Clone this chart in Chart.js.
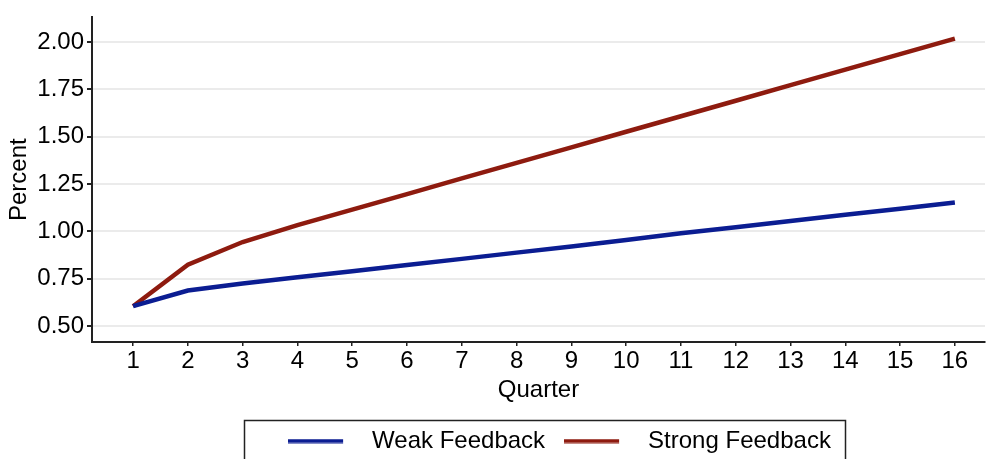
<!DOCTYPE html>
<html lang="en">
<head>
    <meta charset="UTF-8">
    <title>Weak vs strong feedback</title>
    <script src="https://cdn.jsdelivr.net/npm/chart.js"></script>
    <style>
        html, body { margin: 0; padding: 0; background: #fff; }
        .chartBox { width: 986px; height: 459px; }
    </style>
</head>
<body>
<div class="chartBox"><canvas id="lineChart"></canvas></div>
<script>
    // quarters and series values
    var quarters = [1, 2, 3, 4, 5, 6, 7, 8, 9, 10, 11, 12, 13, 14, 15, 16];
    var weakFeedback = [0.605, 0.688, 0.725, 0.758, 0.790, 0.822, 0.855, 0.888, 0.920, 0.955, 0.990, 1.022, 1.055, 1.088, 1.120, 1.153];
    var strongFeedback = [0.605, 0.824, 0.944, 1.033, 1.115, 1.197, 1.280, 1.362, 1.444, 1.526, 1.608, 1.690, 1.772, 1.854, 1.936, 2.018];
    var yTicks = [0.50, 0.75, 1.00, 1.25, 1.50, 1.75, 2.00];

    var font = { family: "'Liberation Sans', Arial, sans-serif", size: 24 };
    var blue = '#0b1d92';
    var red = '#8e1b0f';

    function toPoints(values) {
        return quarters.map(function (q, i) { return { x: q, y: values[i] }; });
    }

    // legend sample: a 55px line inside a 72px wide slot, so the text sits a bit further away
    function legendLine(color) {
        var c = document.createElement('canvas');
        c.width = 72;
        c.height = 5;
        var g = c.getContext('2d');
        g.fillStyle = color;
        g.fillRect(0, 0.5, 55, 4);
        return c;
    }

    // push the legend a little to the right and put a frame round it
    var legendFrame = {
        id: 'legendFrame',
        afterLayout: function (chart) {
            chart.legend.left += 21;
            chart.legend.right += 21;
        },
        afterDraw: function (chart) {
            var ctx = chart.ctx;
            ctx.save();
            ctx.strokeStyle = '#222';
            ctx.lineWidth = 1.5;
            ctx.strokeRect(244.5, 420.5, 601, 60);
            ctx.restore();
        }
    };

    var ctx = document.getElementById('lineChart').getContext('2d');
    new Chart(ctx, {
        type: 'line',
        data: {
            datasets: [{
                label: 'Weak Feedback',
                data: toPoints(weakFeedback),
                borderColor: blue,
                backgroundColor: blue,
                borderWidth: 4.5,
                pointRadius: 0,
                tension: 0
            }, {
                label: 'Strong Feedback',
                data: toPoints(strongFeedback),
                borderColor: red,
                backgroundColor: red,
                borderWidth: 4.5,
                pointRadius: 0,
                tension: 0
            }]
        },
        options: {
            responsive: true,
            maintainAspectRatio: false,
            animation: false,
            layout: { padding: { top: 14, right: 1, left: 0, bottom: -4 } },
            plugins: {
                tooltip: { enabled: false },
                legend: {
                    position: 'bottom',
                    fullSize: false,
                    labels: {
                        color: '#000',
                        font: font,
                        usePointStyle: true,
                        pointStyleWidth: 72,
                        padding: 19,
                        generateLabels: function (chart) {
                            return chart.data.datasets.map(function (ds, i) {
                                return {
                                    text: ds.label,
                                    pointStyle: legendLine(ds.borderColor),
                                    fillStyle: ds.borderColor,
                                    strokeStyle: ds.borderColor,
                                    lineWidth: 0,
                                    datasetIndex: i
                                };
                            });
                        }
                    }
                }
            },
            scales: {
                x: {
                    type: 'linear',
                    min: 0.25,
                    max: 16.55,
                    afterBuildTicks: function (scale) {
                        scale.ticks = quarters.map(function (q) { return { value: q }; });
                    },
                    afterFit: function (scale) { scale.height = 68; },
                    border: { color: '#222', width: 2 },
                    grid: { drawOnChartArea: false, tickColor: '#222', tickLength: 4, lineWidth: 1.5 },
                    ticks: { color: '#000', font: font, padding: 1, maxRotation: 0 },
                    title: { display: true, text: 'Quarter', color: '#000', font: font, padding: { top: 0, bottom: 5 } }
                },
                y: {
                    min: 0.416,
                    max: 2.13,
                    afterBuildTicks: function (scale) {
                        scale.ticks = yTicks.map(function (v) { return { value: v }; });
                    },
                    afterFit: function (scale) { scale.width = 92; },
                    border: { color: '#222', width: 2 },
                    grid: { color: '#ebebeb', lineWidth: 2, tickColor: '#222', tickLength: 5 },
                    ticks: {
                        color: '#000',
                        font: font,
                        padding: 3,
                        callback: function (v) { return Number(v).toFixed(2); }
                    },
                    title: { display: true, text: 'Percent', color: '#000', font: font, padding: { top: 5, bottom: 0 } }
                }
            }
        },
        plugins: [legendFrame]
    });
</script>
</body>
</html>
